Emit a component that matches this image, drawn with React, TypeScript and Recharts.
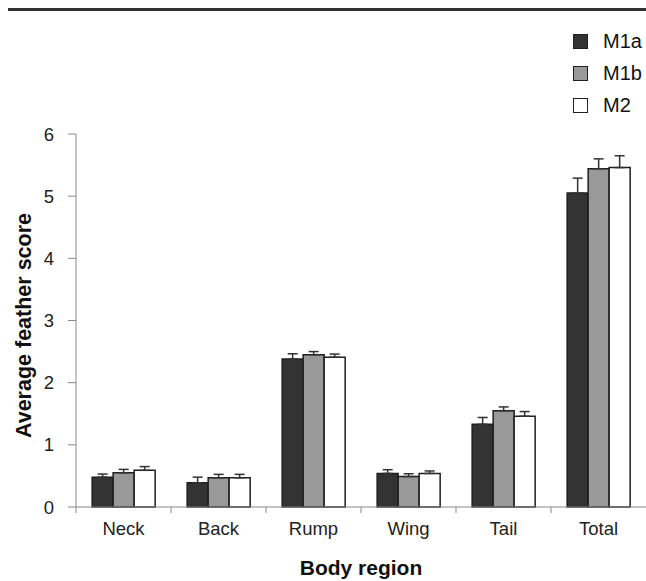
import React from 'react';
import { BarChart, Bar, XAxis, YAxis, ErrorBar, Legend } from 'recharts';

const categories = ['Neck', 'Back', 'Rump', 'Wing', 'Tail', 'Total'];
const m1a = [0.48, 0.39, 2.38, 0.54, 1.33, 5.05];
const m1b = [0.55, 0.47, 2.45, 0.49, 1.55, 5.44];
const m2 = [0.59, 0.47, 2.41, 0.54, 1.46, 5.46];
const m1aErr = [0.05, 0.09, 0.085, 0.06, 0.11, 0.24];
const m1bErr = [0.055, 0.055, 0.05, 0.045, 0.06, 0.16];
const m2Err = [0.06, 0.055, 0.05, 0.04, 0.075, 0.19];
const yTicks = [0, 1, 2, 3, 4, 5, 6];
const seriesNames = ['M1a', 'M1b', 'M2'];
const seriesColors = ['#333333', '#999999', '#ffffff'];

const FONT = '"Liberation Sans", Arial, sans-serif';

const data = categories.map((c, i) => ({
  region: c,
  M1a: m1a[i],
  M1b: m1b[i],
  M2: m2[i],
  M1aErr: [0, m1aErr[i]],
  M1bErr: [0, m1bErr[i]],
  M2Err: [0, m2Err[i]],
}));

const XTick = (props: any) => {
  const { x, y, payload } = props;
  const half = payload && typeof payload.offset === 'number' && payload.offset > 0 ? payload.offset : 47.5;
  const axisY = y - 15;
  return (
    <g>
      <line x1={x - half} x2={x - half} y1={axisY} y2={axisY + 6} stroke="#888" strokeWidth={1} />
      <text x={x} y={y} dy="0.71em" textAnchor="middle" fontSize={18.5} fill="#222" fontFamily={FONT}>
        {payload.value}
      </text>
    </g>
  );
};

const YLabel = (props: any) => {
  const vb = props.viewBox || { x: 0, y: 123, width: 68, height: 373 };
  const cx = vb.x + 16;
  const cy = vb.y + vb.height / 2 + 5;
  return (
    <text
      x={cx}
      y={cy}
      transform={`rotate(-90, ${cx}, ${cy})`}
      textAnchor="middle"
      dominantBaseline="central"
      fontSize={21.5}
      fontWeight="bold"
      fill="#111"
      fontFamily={FONT}
    >
      Average feather score
    </text>
  );
};

const LegendContent = () => (
  <div style={{ fontFamily: FONT }}>
    {seriesNames.map((n, i) => (
      <div key={n} style={{ display: 'flex', alignItems: 'center', height: 16, marginBottom: 16, whiteSpace: 'nowrap' }}>
        <div
          style={{
            width: 15,
            height: 15,
            flex: 'none',
            boxSizing: 'border-box',
            border: '1.5px solid #222',
            background: seriesColors[i],
            marginRight: 15,
          }}
        />
        <span style={{ fontSize: 20, color: '#111', lineHeight: '16px' }}>{n}</span>
      </div>
    ))}
  </div>
);

export default function App() {
  return (
    <div style={{ width: 630, height: 565 }}>
      <div
        style={{
          position: 'fixed',
          left: 8,
          top: 8,
          width: 638,
          height: 573,
          borderTop: '3px solid #333',
          boxSizing: 'border-box',
          background: '#fff',
        }}
      >
        <BarChart
          width={638}
          height={570}
          data={data}
          margin={{ top: 123, right: 0, bottom: 0, left: 0 }}
          barCategoryGap="17%"
          barGap={0}
        >
          <XAxis
            dataKey="region"
            height={74}
            stroke="#888"
            tickLine={false}
            tickSize={6}
            tickMargin={9}
            tick={<XTick />}
            interval={0}
            label={{
              value: 'Body region',
              position: 'insideBottom',
              offset: 6,
              fontSize: 21,
              fontWeight: 'bold',
              fill: '#111',
              fontFamily: FONT,
            }}
          />
          <YAxis
            domain={[0, 6]}
            ticks={yTicks}
            width={68}
            stroke="#888"
            tickSize={8}
            tickMargin={14}
            tick={{ fontSize: 18.5, fill: '#222', fontFamily: FONT }}
            label={<YLabel />}
            interval={0}
          />
          <Legend
            layout="horizontal"
            verticalAlign="middle"
            align="center"
            wrapperStyle={{ position: 'absolute', top: 22, left: 565, width: 73, height: 100 }}
            content={() => <LegendContent />}
          />
          {seriesNames.map((n, i) => (
            <Bar
              key={n}
              dataKey={n}
              fill={seriesColors[i]}
              stroke="#1e1e1e"
              strokeWidth={1.5}
              isAnimationActive={false}
            >
              <ErrorBar dataKey={`${n}Err`} width={5} stroke="#333" strokeWidth={1.5} direction="y" />
            </Bar>
          ))}
        </BarChart>
      </div>
    </div>
  );
}
